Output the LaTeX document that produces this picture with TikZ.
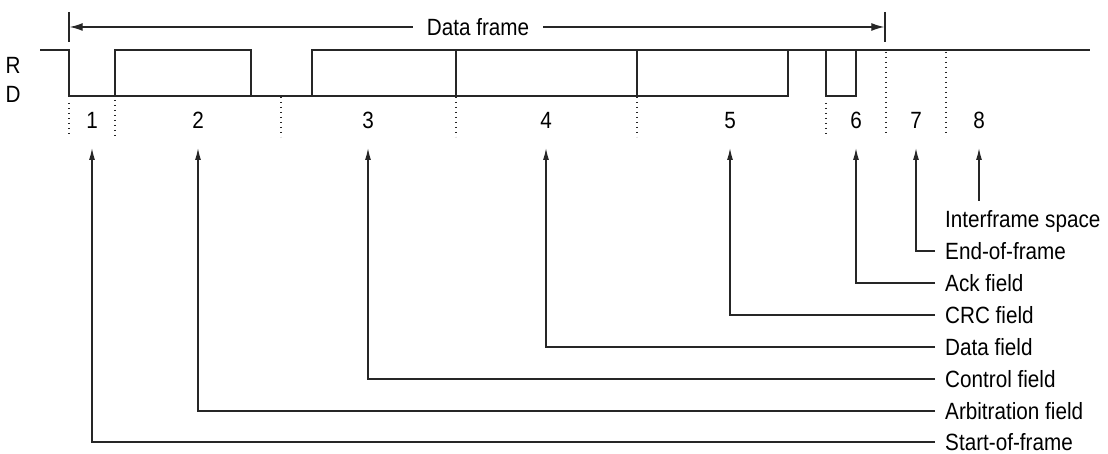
\documentclass[tikz,border=0pt]{standalone}
\usepackage{fontspec}
\setmainfont{Liberation Sans}[FakeStretch=0.88]
\usetikzlibrary{arrows.meta}
\begin{document}
\begin{tikzpicture}[x=1pt,y=-1pt,
  every node/.style={font=\fontsize{23.5}{28}\selectfont, inner sep=0pt, text height=16.5pt, text depth=0pt},
  wave/.style={line width=1.4pt, black!85, line join=miter},
  dots/.style={line width=1.3pt, black!85, dash pattern=on 1.3pt off 3.7pt},
  lead/.style={line width=1.3pt, black!85, -{Latex[length=12pt,width=6pt]}},
  brk/.style={line width=1.3pt, black!85, -{Latex[length=13pt,width=8pt]}},
  lbl/.style={anchor=west},
  num/.style={}]
\useasboundingbox (0,0) rectangle (1108,454);

% top bracket
\draw[wave] (69,12) -- (69,42);
\draw[wave] (885,12) -- (885,42);
\node[inner xsep=14pt] (df) at (478,27) {Data frame};
\coordinate (dl) at (69.7,27);
\coordinate (dr) at (884.3,27);
\draw[brk] (df.west) -- (dl);
\draw[brk] (df.east) -- (dr);

% R / D
\node (R) at (13,65) {R};
\node (D) at (13,94) {D};

% waveform
\draw[wave] (40,50) -- (69,50) -- (69,96) -- (788,96) -- (788,50);
\draw[wave] (115,96) -- (115,50) -- (251,50) -- (251,96);
\draw[wave] (312,96) -- (312,50) -- (1090,50);
\draw[wave] (456,50) -- (456,96);
\draw[wave] (637,50) -- (637,96);
\draw[wave] (826,50) -- (826,96) -- (856,96) -- (856,50);

% dotted separators
\draw[dots] (69,103) -- (69,137);
\draw[dots] (115,100) -- (115,137);
\draw[dots] (281,97) -- (281,137);
\draw[dots] (456,97) -- (456,137);
\draw[dots] (637,97) -- (637,137);
\draw[dots] (826,103) -- (826,137);
\draw[dots] (886,52) -- (886,133);
\draw[dots] (946,52) -- (946,133);

% field numbers
\node[num] (n1) at (92,120) {1};
\node[num] (n2) at (198,120) {2};
\node[num] (n3) at (368,120) {3};
\node[num] (n4) at (546,120) {4};
\node[num] (n5) at (730,120) {5};
\node[num] (n6) at (856,120) {6};
\node[num] (n7) at (916,120) {7};
\node[num] (n8) at (979,120) {8};

% arrow tips
\coordinate (a1) at (92,148);
\coordinate (a2) at (198,148);
\coordinate (a3) at (368,148);
\coordinate (a4) at (546,148);
\coordinate (a5) at (730,148);
\coordinate (a6) at (856,148);
\coordinate (a7) at (916,148);
\coordinate (a8) at (979,148);

% labels
\node[lbl] (t8) at (945,219) {Interframe space};
\node[lbl] (t7) at (945,251) {End-of-frame};
\node[lbl] (t6) at (945,283) {Ack field};
\node[lbl] (t5) at (945,315) {CRC field};
\node[lbl] (t4) at (945,347) {Data field};
\node[lbl] (t3) at (945,379) {Control field};
\node[lbl] (t2) at (945,411) {Arbitration field};
\node[lbl] (t1) at (945,442) {Start-of-frame};

% leaders
\coordinate (e8) at (979,201);
\draw[lead] (e8) -- (a8);
\draw[lead] ([xshift=-10pt]t7.west) -| (a7);
\draw[lead] ([xshift=-10pt]t6.west) -| (a6);
\draw[lead] ([xshift=-10pt]t5.west) -| (a5);
\draw[lead] ([xshift=-10pt]t4.west) -| (a4);
\draw[lead] ([xshift=-10pt]t3.west) -| (a3);
\draw[lead] ([xshift=-10pt]t2.west) -| (a2);
\draw[lead] ([xshift=-10pt]t1.west) -| (a1);
\end{tikzpicture}
\end{document}
